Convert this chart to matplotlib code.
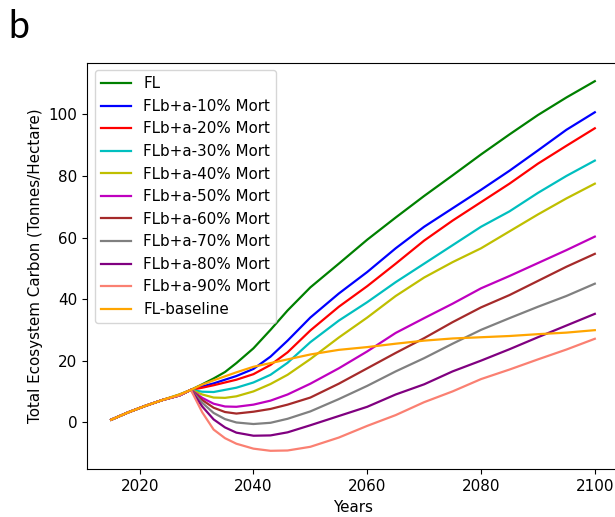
import matplotlib.pyplot as plt

plt.rcParams['font.size'] = 10.9

# dados (anos e carbono total em t/ha)
anos = [2015, 2018, 2021, 2024, 2027, 2029, 2031, 2033, 2035, 2037, 2040, 2043,
        2046, 2050, 2055, 2060, 2065, 2070, 2075, 2080, 2085, 2090, 2095, 2100]

tronco = [0.8, 3.2, 5.3, 7.2, 9.0, 10.5]
tronco_ba = [0.8, 3.2, 5.3, 7.2, 8.7, 10.5]

fl = tronco + [12.3, 14.2, 16.3, 19.2, 24.0, 30.0, 36.3, 43.8, 51.5, 59.3,
               66.5, 73.5, 80.2, 87.0, 93.5, 99.8, 105.5, 110.8]
mort10 = tronco_ba + [11.6, 12.6, 13.8, 15.0, 17.3, 21.3, 26.5, 34.0, 41.8, 48.8,
                      56.5, 63.5, 69.5, 75.5, 81.7, 88.3, 95.0, 100.7]
mort20 = tronco_ba + [11.2, 12.0, 12.9, 13.8, 15.6, 18.6, 22.7, 29.8, 37.5, 44.2,
                      51.5, 59.0, 65.5, 71.5, 77.5, 84.0, 89.8, 95.5]
mort30 = tronco_ba + [9.9, 9.8, 10.5, 11.2, 12.9, 15.4, 19.3, 26.0, 33.0, 39.0,
                      45.5, 51.5, 57.5, 63.5, 68.5, 74.5, 80.0, 85.0]
mort40 = tronco_ba + [9.0, 8.0, 7.9, 8.4, 10.0, 12.4, 15.4, 20.5, 27.5, 34.0,
                      41.0, 47.0, 52.0, 56.5, 62.0, 67.5, 72.7, 77.5]
mort50 = tronco_ba + [7.9, 6.0, 5.1, 5.0, 5.7, 7.0, 9.0, 12.5, 17.5, 23.0,
                      29.0, 33.8, 38.5, 43.5, 47.5, 51.7, 55.9, 60.3]
mort60 = tronco_ba + [7.2, 4.7, 3.3, 2.8, 3.4, 4.3, 5.7, 8.0, 12.5, 17.5,
                      22.5, 27.3, 32.5, 37.3, 41.3, 45.9, 50.5, 54.7]
mort70 = tronco_ba + [6.3, 3.0, 1.0, -0.1, -0.6, -0.2, 1.1, 3.5, 7.5, 11.8,
                      16.5, 20.8, 25.5, 30.0, 33.8, 37.5, 41.0, 45.0]
mort80 = tronco_ba + [5.1, 0.9, -1.7, -3.4, -4.4, -4.3, -3.3, -1.0, 2.0, 5.0,
                      9.0, 12.3, 16.5, 20.0, 23.7, 27.6, 31.4, 35.2]
mort90 = tronco_ba + [3.2, -2.4, -5.2, -7.0, -8.6, -9.3, -9.2, -8.0, -5.0, -1.2,
                      2.3, 6.5, 10.0, 14.0, 17.1, 20.4, 23.6, 27.1]
baseline = tronco + [12.2, 13.6, 14.9, 16.2, 18.0, 19.2, 20.4, 22.0, 23.5, 24.4,
                     25.5, 26.5, 27.2, 27.6, 28.0, 28.6, 29.1, 29.9]

series = [
    ('FL', fl, 'green'),
    ('FLb+a-10% Mort', mort10, 'blue'),
    ('FLb+a-20% Mort', mort20, 'red'),
    ('FLb+a-30% Mort', mort30, 'c'),
    ('FLb+a-40% Mort', mort40, 'y'),
    ('FLb+a-50% Mort', mort50, 'm'),
    ('FLb+a-60% Mort', mort60, 'brown'),
    ('FLb+a-70% Mort', mort70, 'gray'),
    ('FLb+a-80% Mort', mort80, 'purple'),
    ('FLb+a-90% Mort', mort90, 'salmon'),
    ('FL-baseline', baseline, 'orange'),
]

fig = plt.figure(figsize=(6.15, 5.17), dpi=100)
ax = fig.add_axes([0.1415, 0.0923, 0.865, 0.7864])

for nome, valores, cor in series:
    ax.plot(anos, valores, color=cor, label=nome, linewidth=1.6)

ax.set_xlabel('Years')
ax.set_ylabel('Total Ecosystem Carbon (Tonnes/Hectare)')
ax.legend(loc='upper left')

fig.text(0.013, 0.9265, 'b', fontsize=27, family='Lato', va='baseline')

plt.savefig('out.png', dpi=100)
